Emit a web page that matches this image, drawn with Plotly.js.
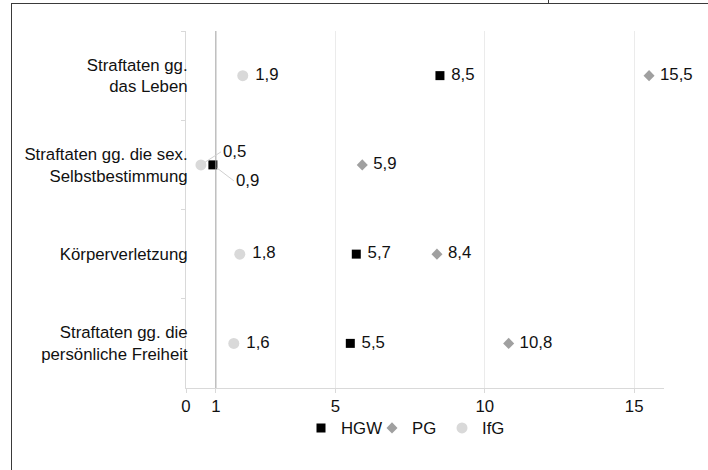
<!DOCTYPE html>
<html>
<head>
<meta charset="utf-8">
<script src="https://cdn.plot.ly/plotly-3.0.1.min.js"></script>
<style>
  html, body { margin: 0; padding: 0; background: #fff; }
  #wrap { position: relative; width: 708px; height: 470px; overflow: hidden; }
  #chart { position: absolute; left: 0; top: 0; width: 708px; height: 470px; }
  #frame { position: absolute; left: 11px; top: 3px; width: 720px; height: 480px;
           border-left: 1.5px solid #3a3a3a; border-top: 1.5px solid #3a3a3a; pointer-events: none; }
  #tick { position: absolute; left: 548px; top: 0; width: 1px; height: 4px; background: #3a3a3a; }
</style>
</head>
<body>
<div id="wrap">
  <div id="chart"></div>
  <div id="frame"></div>
  <div id="tick"></div>
</div>
<script>
const categories = [
  "Straftaten gg.<br>das Leben",
  "Straftaten gg. die sex.<br>Selbstbestimmung",
  "Körperverletzung",
  "Straftaten gg. die<br>persönliche Freiheit"
];
const seriesNames = ["HGW", "PG", "IfG"];
const hgw = [8.5, 0.9, 5.7, 5.5];
const pg  = [15.5, 5.9, 8.4, 10.8];
const ifg = [1.9, 0.5, 1.8, 1.6];
const xTickVals = [0, 1, 5, 10, 15];
const xTickText = ["0", "1", "5", "10", "15"];
const refLine = [1];
const calloutIndex = 1; // labels drawn with leader lines

const fmt = v => v.toFixed(1).replace('.', ',');
const labels = (arr, skip) => arr.map((v, i) => (skip && i === calloutIndex) ? '' : '\u00a0' + fmt(v));

const FONT = 'Liberation Sans, Arial, sans-serif';
const FS = 16.8;
const txtFont = { family: FONT, size: FS, color: '#111' };

const traces = [
  { name: seriesNames[0], x: hgw, y: categories, type: 'scatter', mode: 'markers+text',
    marker: { symbol: 'square', size: 9, color: '#000' }, legend: 'legend',
    text: labels(hgw, true), texttemplate: '%{text}', textposition: 'middle right', textfont: txtFont,
    cliponaxis: false, hoverinfo: 'skip' },
  { name: seriesNames[1], x: pg, y: categories, type: 'scatter', mode: 'markers+text',
    marker: { symbol: 'diamond', size: 8.5, color: '#a0a0a0' }, legend: 'legend2',
    text: labels(pg, false), texttemplate: '%{text}', textposition: 'middle right', textfont: txtFont,
    cliponaxis: false, hoverinfo: 'skip' },
  { name: seriesNames[2], x: ifg, y: categories, type: 'scatter', mode: 'markers+text',
    marker: { symbol: 'circle', size: 11, color: '#d9d9d9' }, legend: 'legend3',
    text: labels(ifg, true), texttemplate: '%{text}', textposition: 'middle right', textfont: txtFont,
    cliponaxis: false, hoverinfo: 'skip' }
];

const annotations = [
  { x: ifg[calloutIndex], y: categories[calloutIndex], text: fmt(ifg[calloutIndex]),
    showarrow: true, ax: 20, ay: -13, xanchor: 'left', yanchor: 'middle',
    arrowhead: 0, arrowwidth: 1, arrowcolor: '#d0d0d0', standoff: 5, font: txtFont },
  { x: hgw[calloutIndex], y: categories[calloutIndex], text: fmt(hgw[calloutIndex]),
    showarrow: true, ax: 21, ay: 16, xanchor: 'left', yanchor: 'middle',
    arrowhead: 0, arrowwidth: 1, arrowcolor: '#d0d0d0', standoff: 5, font: txtFont }
];

const legBase = { orientation: 'h', y: -0.112, yanchor: 'middle', xanchor: 'left',
                  bgcolor: 'rgba(0,0,0,0)', font: { family: FONT, size: FS, color: '#111' },
                  itemwidth: 30 };
const px2paper = px => (px - 186) / 478;

const layout = {
  width: 708, height: 470,
  margin: { l: 186, r: 44, t: 31, b: 82 },
  paper_bgcolor: '#fff', plot_bgcolor: '#fff',
  separators: ',.',
  font: { family: FONT, size: FS, color: '#111' },
  showlegend: true,
  legend:  Object.assign({}, legBase, { x: px2paper(301) }),
  legend2: Object.assign({}, legBase, { x: px2paper(372) }),
  legend3: Object.assign({}, legBase, { x: px2paper(442) }),
  xaxis: {
    range: [0, 16], tickvals: xTickVals, ticktext: xTickText,
    showgrid: true, gridcolor: '#ebebeb', gridwidth: 1, zeroline: false,
    showline: true, linecolor: '#d9d9d9', linewidth: 1,
    ticks: 'outside', ticklen: 4, tickcolor: '#d9d9d9', ticklabelstandoff: -1,
    tickfont: { family: FONT, size: FS, color: '#111' }, fixedrange: true
  },
  yaxis: {
    type: 'category', categoryorder: 'array', categoryarray: categories,
    range: [categories.length - 0.5, -0.5],
    showgrid: false, zeroline: false,
    showline: true, linecolor: '#d9d9d9', linewidth: 1,
    ticks: 'outside', tickson: 'boundaries', ticklen: 4, tickcolor: '#d9d9d9',
    ticklabelstandoff: -6,
    tickfont: { family: FONT, size: FS, color: '#111' }, fixedrange: true
  },
  shapes: refLine.map(v => ({ type: 'line', xref: 'x', yref: 'paper', x0: v, x1: v, y0: 0, y1: 1,
                               line: { color: '#a6a6a6', width: 1 }, layer: 'above' })),
  annotations: annotations
};

Plotly.newPlot('chart', traces, layout, { staticPlot: true, displayModeBar: false });
</script>
</body>
</html>
